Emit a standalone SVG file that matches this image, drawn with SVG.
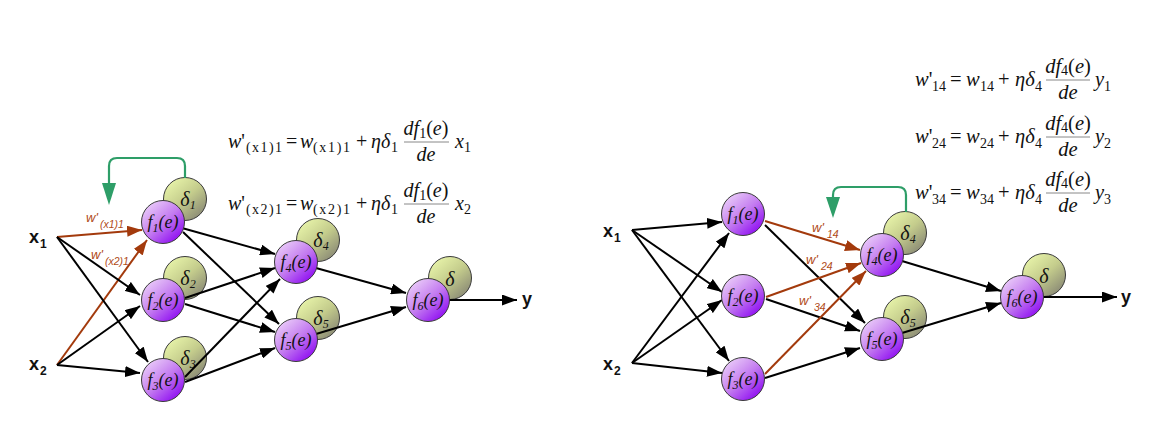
<svg xmlns="http://www.w3.org/2000/svg" width="1176" height="432" viewBox="0 0 1176 432">
<defs>
<linearGradient id="gf" x1="0.15" y1="0.1" x2="0.85" y2="0.9">
<stop offset="0" stop-color="#E8C8F8"/><stop offset="0.5" stop-color="#C47CF0"/><stop offset="1" stop-color="#9010F2"/>
</linearGradient>
<linearGradient id="gd" x1="0.15" y1="0.1" x2="0.85" y2="0.9">
<stop offset="0" stop-color="#E6F2A8"/><stop offset="0.5" stop-color="#C4CC8C"/><stop offset="1" stop-color="#8C8C76"/>
</linearGradient>
<marker id="ab" markerUnits="userSpaceOnUse" markerWidth="15" markerHeight="11" viewBox="0 0 15 11" refX="15" refY="5.5" orient="auto"><path d="M0,0 L15,5.5 L0,11 z" fill="#000"/></marker>
<marker id="ar" markerUnits="userSpaceOnUse" markerWidth="15" markerHeight="11" viewBox="0 0 15 11" refX="15" refY="5.5" orient="auto"><path d="M0,0 L15,5.5 L0,11 z" fill="#A33A0C"/></marker>
<style>
.f{fill:url(#gf);stroke:#3a3a3a;stroke-width:1}
.d{fill:url(#gd);stroke:#3a3a3a;stroke-width:1}
.ft{font-family:"Liberation Serif",serif;font-style:italic;font-size:18px;fill:#111;text-anchor:middle}
.dt{font-family:"Liberation Serif",serif;font-style:italic;font-size:20px;fill:#111;text-anchor:middle}
.e{stroke:#000;stroke-width:2;fill:none;marker-end:url(#ab)}
.r{stroke:#A33A0C;stroke-width:2;fill:none;marker-end:url(#ar)}
.g{stroke:#2E9E68;stroke-width:2.2;fill:none}
.ga{fill:#2E9E68}
.lab{font-family:"Liberation Sans",sans-serif;font-weight:bold;font-size:18px;fill:#111}
.labs{font-family:"Liberation Sans",sans-serif;font-weight:bold;font-size:12px;fill:#111}
.w{font-family:"Liberation Sans",sans-serif;font-style:italic;font-size:13px;fill:#B04A18}
.ws{font-family:"Liberation Sans",sans-serif;font-style:italic;font-size:10.5px;fill:#B04A18}
.m{font-family:"Liberation Serif",serif;font-size:20px;fill:#111}
.ms{font-family:"Liberation Serif",serif;font-size:14px;fill:#111}
.M{font-family:"Liberation Serif",serif;font-size:20.5px;fill:#111}
.Ms{font-family:"Liberation Serif",serif;font-size:14px;fill:#111}
.i{font-style:italic}
.bar{stroke:#888;stroke-width:1}
</style>
</defs>
<rect width="1176" height="432" fill="#fff"/>

<!-- delta nodes (behind) -->
<g id="L-d1"><circle class="d" cx="185" cy="199" r="21.5"/><text class="dt" x="188" y="206">δ<tspan font-size="12" dy="3">1</tspan></text></g>
<g id="L-d2"><circle class="d" cx="185" cy="278" r="21.5"/><text class="dt" x="188" y="285">δ<tspan font-size="12" dy="3">2</tspan></text></g>
<g id="L-d3"><circle class="d" cx="185" cy="358" r="21.5"/><text class="dt" x="188" y="365">δ<tspan font-size="12" dy="3">3</tspan></text></g>
<g id="L-d4"><circle class="d" cx="318" cy="240" r="21.5"/><text class="dt" x="321" y="247">δ<tspan font-size="12" dy="3">4</tspan></text></g>
<g id="L-d5"><circle class="d" cx="318" cy="318" r="21.5"/><text class="dt" x="321" y="325">δ<tspan font-size="12" dy="3">5</tspan></text></g>
<g id="L-d6"><circle class="d" cx="450" cy="278" r="21.5"/><text class="dt" x="450" y="286">δ</text></g>
<g id="R-d4"><circle class="d" cx="905" cy="233" r="21.5"/><text class="dt" x="908" y="240">δ<tspan font-size="12" dy="3">4</tspan></text></g>
<g id="R-d5"><circle class="d" cx="905" cy="317" r="21.5"/><text class="dt" x="908" y="324">δ<tspan font-size="12" dy="3">5</tspan></text></g>
<g id="R-d6"><circle class="d" cx="1044" cy="275" r="21.5"/><text class="dt" x="1044" y="283">δ</text></g>

<!-- connectors -->
<g id="connectors">
<line class="r" x1="57" y1="237" x2="142" y2="230"/>
<line class="r" x1="57" y1="365" x2="147" y2="240"/>
<line class="e" x1="57" y1="237" x2="140" y2="295"/>
<line class="e" x1="57" y1="365" x2="140" y2="306"/>
<line class="e" x1="57" y1="237" x2="148" y2="362"/>
<line class="e" x1="57" y1="365" x2="140" y2="373"/>
<line class="e" x1="182" y1="228" x2="275" y2="254"/>
<line class="e" x1="183" y1="232" x2="279" y2="324"/>
<line class="e" x1="185" y1="298" x2="275" y2="268"/>
<line class="e" x1="185" y1="304" x2="275" y2="332"/>
<line class="e" x1="185" y1="377" x2="280" y2="279"/>
<line class="e" x1="185" y1="382" x2="275" y2="348"/>
<line class="e" x1="316" y1="268" x2="406" y2="293"/>
<line class="e" x1="316" y1="334" x2="406" y2="307"/>
<line class="e" x1="449" y1="300" x2="517" y2="300"/>
<path class="g" d="M185,178 V166 Q185,158 177,158 H117 Q109,158 109,166 V186"/>
<path class="ga" d="M102,183 L116,183 L109,205 z"/>

<line class="e" x1="632" y1="230" x2="722" y2="222"/>
<line class="e" x1="632" y1="363" x2="729" y2="233"/>
<line class="e" x1="632" y1="230" x2="722" y2="292"/>
<line class="e" x1="632" y1="363" x2="722" y2="300"/>
<line class="e" x1="632" y1="230" x2="729" y2="361"/>
<line class="e" x1="632" y1="363" x2="722" y2="373"/>
<line class="r" x1="765" y1="221" x2="860" y2="250"/>
<line class="e" x1="765" y1="225" x2="865" y2="323"/>
<line class="r" x1="766" y1="297" x2="861" y2="263"/>
<line class="e" x1="766" y1="299" x2="860" y2="331"/>
<line class="r" x1="765" y1="374" x2="866" y2="271"/>
<line class="e" x1="765" y1="378" x2="860" y2="348"/>
<line class="e" x1="902" y1="261" x2="1001" y2="291"/>
<line class="e" x1="902" y1="333" x2="1001" y2="303"/>
<line class="e" x1="1043" y1="297" x2="1117" y2="297"/>
<path class="g" d="M906,212 V195 Q906,187 898,187 H841 Q833,187 833,195 V199"/>
<path class="ga" d="M826,197 L840,197 L833,218 z"/>
</g>

<!-- f nodes -->
<g id="L-f1"><circle class="f" cx="163" cy="222" r="21.5"/><text class="ft" x="163" y="228">f<tspan font-size="12" dy="4">1</tspan><tspan dy="-4">(e)</tspan></text></g>
<g id="L-f2"><circle class="f" cx="163" cy="300" r="21.5"/><text class="ft" x="163" y="306">f<tspan font-size="12" dy="4">2</tspan><tspan dy="-4">(e)</tspan></text></g>
<g id="L-f3"><circle class="f" cx="163" cy="380" r="21.5"/><text class="ft" x="163" y="386">f<tspan font-size="12" dy="4">3</tspan><tspan dy="-4">(e)</tspan></text></g>
<g id="L-f4"><circle class="f" cx="296" cy="262" r="21.5"/><text class="ft" x="296" y="268">f<tspan font-size="12" dy="4">4</tspan><tspan dy="-4">(e)</tspan></text></g>
<g id="L-f5"><circle class="f" cx="296" cy="340" r="21.5"/><text class="ft" x="296" y="346">f<tspan font-size="12" dy="4">5</tspan><tspan dy="-4">(e)</tspan></text></g>
<g id="L-f6"><circle class="f" cx="428" cy="300" r="21.5"/><text class="ft" x="428" y="306">f<tspan font-size="12" dy="4">6</tspan><tspan dy="-4">(e)</tspan></text></g>
<g id="R-f1"><circle class="f" cx="743" cy="214" r="21.5"/><text class="ft" x="743" y="220">f<tspan font-size="12" dy="4">1</tspan><tspan dy="-4">(e)</tspan></text></g>
<g id="R-f2"><circle class="f" cx="743" cy="296" r="21.5"/><text class="ft" x="743" y="302">f<tspan font-size="12" dy="4">2</tspan><tspan dy="-4">(e)</tspan></text></g>
<g id="R-f3"><circle class="f" cx="743" cy="379" r="21.5"/><text class="ft" x="743" y="385">f<tspan font-size="12" dy="4">3</tspan><tspan dy="-4">(e)</tspan></text></g>
<g id="R-f4"><circle class="f" cx="882" cy="255" r="21.5"/><text class="ft" x="882" y="261">f<tspan font-size="12" dy="4">4</tspan><tspan dy="-4">(e)</tspan></text></g>
<g id="R-f5"><circle class="f" cx="882" cy="339" r="21.5"/><text class="ft" x="882" y="345">f<tspan font-size="12" dy="4">5</tspan><tspan dy="-4">(e)</tspan></text></g>
<g id="R-f6"><circle class="f" cx="1022" cy="297" r="21.5"/><text class="ft" x="1022" y="303">f<tspan font-size="12" dy="4">6</tspan><tspan dy="-4">(e)</tspan></text></g>

<!-- inputs / output -->
<g id="L-x1"><text class="lab" x="29" y="243">x</text><text class="labs" x="40" y="248">1</text></g>
<g id="L-x2"><text class="lab" x="29" y="370">x</text><text class="labs" x="40" y="375">2</text></g>
<g id="L-y"><text class="lab" x="522" y="305">y</text></g>
<g id="R-x1"><text class="lab" x="603" y="237">x</text><text class="labs" x="614" y="242">1</text></g>
<g id="R-x2"><text class="lab" x="603" y="370">x</text><text class="labs" x="614" y="375">2</text></g>
<g id="R-y"><text class="lab" x="1121" y="303">y</text></g>

<!-- weight labels -->
<g id="wlabels">
<text class="w" x="86" y="222">w'</text><text class="ws" x="100" y="228">(x1)1</text>
<text class="w" x="91" y="259">w'</text><text class="ws" x="105" y="265">(x2)1</text>
<text class="w" x="812" y="232">w'</text><text class="ws" x="827" y="238">14</text>
<text class="w" x="806" y="264">w'</text><text class="ws" x="821" y="270">24</text>
<text class="w" x="799" y="305">w'</text><text class="ws" x="814" y="311">34</text>
</g>

<!-- left formulas -->
<g id="formula-L1">
<text class="m" x="228" y="148"><tspan class="i">w</tspan>'</text>
<text class="ms" x="246" y="152" textLength="36" lengthAdjust="spacing">(x1)1</text>
<text class="m" x="286" y="148">=</text>
<text class="m i" x="300" y="148">w</text>
<text class="ms" x="313" y="152" textLength="37" lengthAdjust="spacing">(x1)1</text>
<text class="m" x="356" y="148">+</text>
<text class="m i" x="371" y="148">ηδ</text>
<text class="ms" x="391" y="152">1</text>
<text class="m" x="426" y="135" text-anchor="middle"><tspan class="i">df</tspan><tspan font-size="14" dy="3">1</tspan><tspan dy="-3">(</tspan><tspan class="i">e</tspan>)</text>
<line class="bar" x1="404" y1="142" x2="449" y2="142"/>
<text class="m i" x="426" y="161" text-anchor="middle">de</text>
<text class="m i" x="455" y="148">x</text>
<text class="ms" x="464" y="152">1</text>
</g>
<g id="formula-L2">
<text class="m" x="228" y="210"><tspan class="i">w</tspan>'</text>
<text class="ms" x="246" y="214" textLength="36" lengthAdjust="spacing">(x2)1</text>
<text class="m" x="286" y="210">=</text>
<text class="m i" x="300" y="210">w</text>
<text class="ms" x="313" y="214" textLength="37" lengthAdjust="spacing">(x2)1</text>
<text class="m" x="356" y="210">+</text>
<text class="m i" x="371" y="210">ηδ</text>
<text class="ms" x="391" y="214">1</text>
<text class="m" x="426" y="197" text-anchor="middle"><tspan class="i">df</tspan><tspan font-size="14" dy="3">1</tspan><tspan dy="-3">(</tspan><tspan class="i">e</tspan>)</text>
<line class="bar" x1="404" y1="204" x2="449" y2="204"/>
<text class="m i" x="426" y="223" text-anchor="middle">de</text>
<text class="m i" x="455" y="210">x</text>
<text class="ms" x="464" y="214">2</text>
</g>

<!-- right formulas -->
<g id="formula-R1">
<text class="M" x="915" y="86"><tspan class="i">w</tspan>'</text>
<text class="Ms" x="932" y="91">14</text>
<text class="M" x="950" y="86">=</text>
<text class="M i" x="966" y="86">w</text>
<text class="Ms" x="980" y="91">14</text>
<text class="M" x="998" y="86">+</text>
<text class="M i" x="1015" y="86">ηδ</text>
<text class="Ms" x="1035" y="91">4</text>
<text class="M" x="1068" y="73" text-anchor="middle"><tspan class="i">df</tspan><tspan font-size="14" dy="2">4</tspan><tspan dy="-2">(</tspan><tspan class="i">e</tspan>)</text>
<line class="bar" x1="1046" y1="80" x2="1090" y2="80"/>
<text class="M i" x="1068" y="99" text-anchor="middle">de</text>
<text class="M i" x="1095" y="86">y</text>
<text class="Ms" x="1104" y="91">1</text>
</g>
<g id="formula-R2">
<text class="M" x="915" y="143"><tspan class="i">w</tspan>'</text>
<text class="Ms" x="932" y="148">24</text>
<text class="M" x="950" y="143">=</text>
<text class="M i" x="966" y="143">w</text>
<text class="Ms" x="980" y="148">24</text>
<text class="M" x="998" y="143">+</text>
<text class="M i" x="1015" y="143">ηδ</text>
<text class="Ms" x="1035" y="148">4</text>
<text class="M" x="1068" y="130" text-anchor="middle"><tspan class="i">df</tspan><tspan font-size="14" dy="2">4</tspan><tspan dy="-2">(</tspan><tspan class="i">e</tspan>)</text>
<line class="bar" x1="1046" y1="137" x2="1090" y2="137"/>
<text class="M i" x="1068" y="156" text-anchor="middle">de</text>
<text class="M i" x="1095" y="143">y</text>
<text class="Ms" x="1104" y="148">2</text>
</g>
<g id="formula-R3">
<text class="M" x="915" y="199"><tspan class="i">w</tspan>'</text>
<text class="Ms" x="932" y="204">34</text>
<text class="M" x="950" y="199">=</text>
<text class="M i" x="966" y="199">w</text>
<text class="Ms" x="980" y="204">34</text>
<text class="M" x="998" y="199">+</text>
<text class="M i" x="1015" y="199">ηδ</text>
<text class="Ms" x="1035" y="204">4</text>
<text class="M" x="1068" y="186" text-anchor="middle"><tspan class="i">df</tspan><tspan font-size="14" dy="2">4</tspan><tspan dy="-2">(</tspan><tspan class="i">e</tspan>)</text>
<line class="bar" x1="1046" y1="193" x2="1090" y2="193"/>
<text class="M i" x="1068" y="212" text-anchor="middle">de</text>
<text class="M i" x="1095" y="199">y</text>
<text class="Ms" x="1104" y="204">3</text>
</g>
</svg>
